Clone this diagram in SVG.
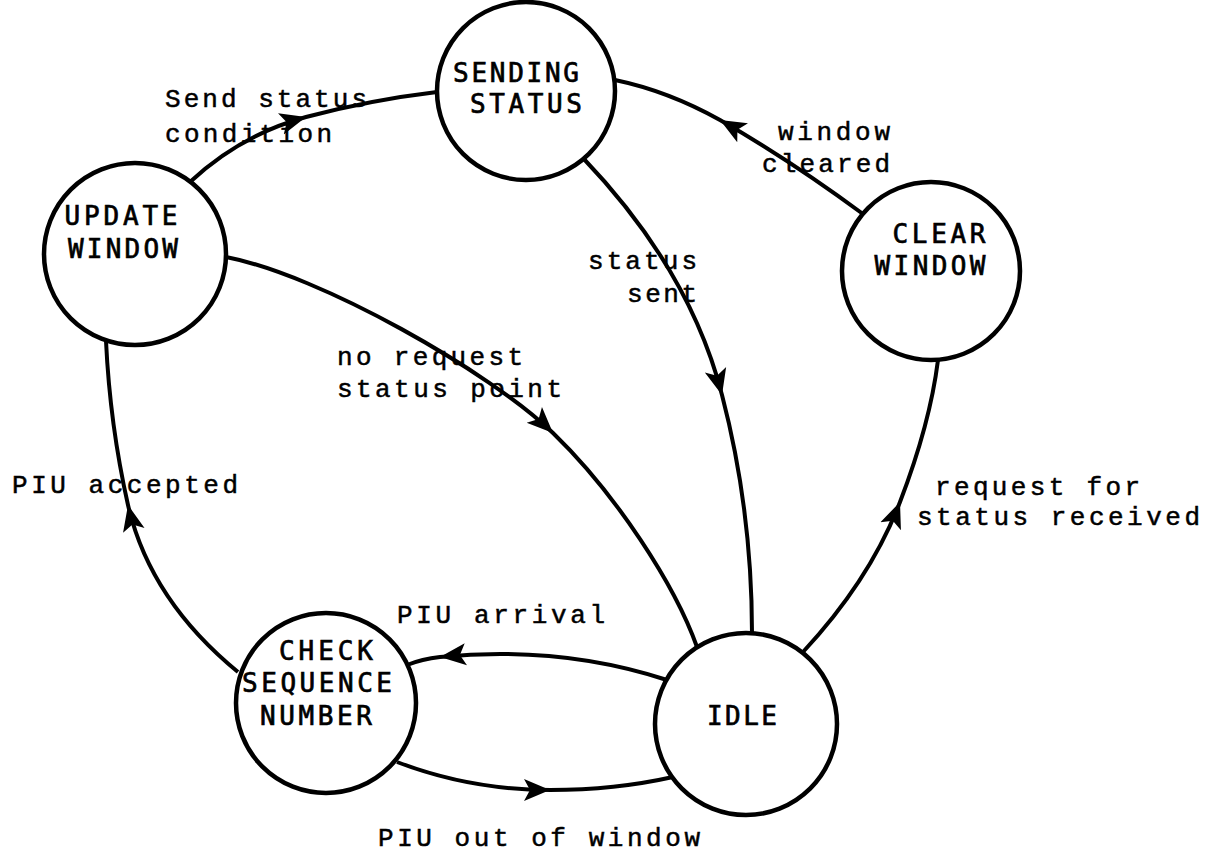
<svg xmlns="http://www.w3.org/2000/svg" width="1223" height="853" viewBox="0 0 1223 853">
<style>
.node circle{fill:#fff;stroke:#000;stroke-width:4.5}
.nt{font-family:"DejaVu Sans Mono","Liberation Mono",monospace;font-size:26px;fill:#000;stroke:#000;stroke-width:0.7;text-anchor:middle}
.edge{fill:none;stroke:#000;stroke-width:4;marker-mid:url(#ah)}
.lb{font-family:"Liberation Mono","Courier New",monospace;font-size:26px;fill:#000;stroke:#000;stroke-width:0.5}
</style>
<defs>
<marker id="ah" markerUnits="userSpaceOnUse" viewBox="0 0 28 24" markerWidth="28" markerHeight="24" refX="26" refY="12" orient="auto">
<path d="M0,1 L26,12 L0,23 L6,12 z" fill="#000"/>
</marker>
</defs>
<rect width="1223" height="853" fill="#fff"/>
<g id="connectors">
<path class="edge" d="M190,182 Q240,135 306,117 Q370,100 437,92"/>
<path class="edge" d="M863,214 Q790,160 720,120 Q668,91 615,80"/>
<path class="edge" d="M583,158 Q690,270 722,395 Q752,510 752,633"/>
<path class="edge" d="M226,257 C320,275 490,372 553,433 S675,585 697,647"/>
<path class="edge" d="M803,652 Q870,580 900,502 Q930,424 938,360"/>
<path class="edge" d="M667,680 Q560,645 440,657 Q422,659 407,665"/>
<path class="edge" d="M397,762 Q470,790 550,790 Q615,790 673,777"/>
<path class="edge" d="M238,672 Q150,600 128,505 Q110,425 106,341"/>
</g>
<g id="sending-status" class="node">
<circle cx="526" cy="91" r="89"/>
<text class="nt" x="516" y="82" textLength="126" lengthAdjust="spacing">SENDING</text>
<text class="nt" x="526" y="113" textLength="112" lengthAdjust="spacing">STATUS</text>
</g>
<g id="update-window" class="node">
<circle cx="135" cy="254" r="91"/>
<text class="nt" x="121" y="225" textLength="113" lengthAdjust="spacing">UPDATE</text>
<text class="nt" x="123" y="258" textLength="110" lengthAdjust="spacing">WINDOW</text>
</g>
<g id="clear-window" class="node">
<circle cx="931" cy="271" r="89"/>
<text class="nt" x="939" y="243" textLength="93" lengthAdjust="spacing">CLEAR</text>
<text class="nt" x="930" y="275" textLength="111" lengthAdjust="spacing">WINDOW</text>
</g>
<g id="check-sequence-number" class="node">
<circle cx="326" cy="703" r="90"/>
<text class="nt" x="326" y="660" textLength="94" lengthAdjust="spacing">CHECK</text>
<text class="nt" x="317" y="692" textLength="150" lengthAdjust="spacing">SEQUENCE</text>
<text class="nt" x="316" y="725" textLength="112" lengthAdjust="spacing">NUMBER</text>
</g>
<g id="idle" class="node">
<circle cx="746" cy="724" r="91"/>
<text class="nt" x="742" y="725" textLength="70" lengthAdjust="spacing">IDLE</text>
</g>
<g id="labels">
<text class="lb" x="165" y="107" textLength="202" lengthAdjust="spacing">Send status</text>
<text class="lb" x="165" y="142" textLength="167" lengthAdjust="spacing">condition</text>
<text class="lb" x="778" y="140" textLength="112" lengthAdjust="spacing">window</text>
<text class="lb" x="762" y="172" textLength="128" lengthAdjust="spacing">cleared</text>
<text class="lb" x="588" y="269" textLength="109" lengthAdjust="spacing">status</text>
<text class="lb" x="627" y="302" textLength="70" lengthAdjust="spacing">sent</text>
<text class="lb" x="337" y="365" textLength="186" lengthAdjust="spacing">no request</text>
<text class="lb" x="337" y="397" textLength="225" lengthAdjust="spacing">status point</text>
<text class="lb" x="12" y="493" textLength="226" lengthAdjust="spacing">PIU accepted</text>
<text class="lb" x="935" y="495" textLength="205" lengthAdjust="spacing">request for</text>
<text class="lb" x="917" y="525" textLength="283" lengthAdjust="spacing">status received</text>
<text class="lb" x="397" y="623" textLength="208" lengthAdjust="spacing">PIU arrival</text>
<text class="lb" x="378" y="846" textLength="322" lengthAdjust="spacing">PIU out of window</text>
</g>
</svg>
